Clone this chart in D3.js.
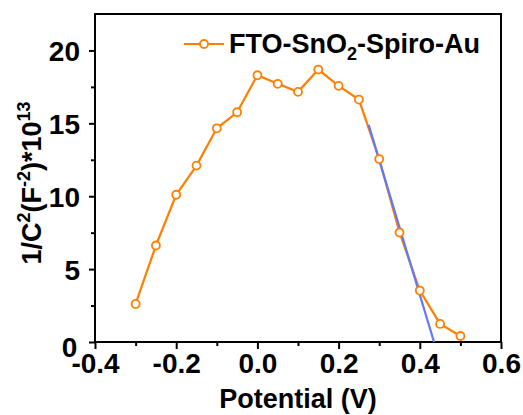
<!DOCTYPE html>
<html>
<head>
<meta charset="utf-8">
<script src="https://cdn.jsdelivr.net/npm/d3@7"></script>
<style>
  body { margin: 0; background: #fff; }
  text { font-family: "Liberation Sans", Arial, sans-serif; font-weight: bold; }
</style>
</head>
<body>
<div id="chart"></div>
<script>
/* DATA */
const potential = [-0.3, -0.25, -0.2, -0.15, -0.1, -0.05, 0.0, 0.05, 0.1, 0.15, 0.2, 0.25, 0.3, 0.35, 0.4, 0.45, 0.5];
const invC2 = [2.61, 6.62, 10.1, 12.1, 14.66, 15.76, 18.3, 17.71, 17.16, 18.69, 17.57, 16.63, 12.55, 7.51, 3.53, 1.24, 0.41];
// linear fit (Mott-Schottky extrapolation)
const fitX = [0.274, 0.435];
const fitY = [14.89, 0];
const xTicks = [-0.4, -0.2, 0.0, 0.2, 0.4, 0.6];
const yTicks = [0, 5, 10, 15, 20];
const seriesName = "FTO-SnO";

const width = 523, height = 415;
const margin = { top: 14, right: 22, bottom: 73, left: 95 };

const svg = d3.select("#chart").append("svg")
  .attr("width", width)
  .attr("height", height);

const x = d3.scaleLinear().domain([-0.4, 0.6]).range([margin.left, width - margin.right]);
const y = d3.scaleLinear().domain([0, 22.5]).range([height - margin.bottom, margin.top]);

const orange = "#ff8000", blue = "#6079f5";

// axes
const xAxis = svg.append("g")
  .attr("transform", `translate(0,${height - margin.bottom})`)
  .call(d3.axisBottom(x).tickValues(xTicks).tickSize(7).tickPadding(4));
xAxis.selectAll("text").attr("font-size", 28).attr("fill", "#000")
  .text(d => (d < 0 ? "-" : "") + Math.abs(d).toFixed(1));

svg.append("g")
  .attr("transform", `translate(0,${height - margin.bottom})`)
  .call(d3.axisBottom(x).tickValues(d3.range(-0.3, 0.6, 0.2)).tickFormat("").tickSize(4))
  .call(g => g.select(".domain").remove());

const yAxis = svg.append("g")
  .attr("transform", `translate(${margin.left},0)`)
  .call(d3.axisLeft(y).tickValues(yTicks).tickSize(6).tickPadding(9));
yAxis.selectAll("text").attr("font-size", 28).attr("fill", "#000")
  .attr("dx", d => d === 0 ? "-0.1em" : 0)
  .attr("dy", d => d === 0 ? "0.5em" : "0.36em");

svg.append("g")
  .attr("transform", `translate(${margin.left},0)`)
  .call(d3.axisLeft(y).tickValues([2.5, 7.5, 12.5, 17.5]).tickFormat("").tickSize(4))
  .call(g => g.select(".domain").remove());

svg.selectAll(".domain").remove();
svg.selectAll(".tick line").attr("stroke", "#000").attr("stroke-width", 2);

// frame
svg.append("rect")
  .attr("x", margin.left).attr("y", margin.top)
  .attr("width", width - margin.left - margin.right)
  .attr("height", height - margin.top - margin.bottom)
  .attr("fill", "none").attr("stroke", "#000").attr("stroke-width", 2);

// axis titles
svg.append("text")
  .attr("x", 298)
  .attr("y", 408)
  .attr("text-anchor", "middle")
  .attr("font-size", 27)
  .text("Potential (V)");

const yt = svg.append("text")
  .attr("transform", `translate(41,183) rotate(-90)`)
  .attr("text-anchor", "middle")
  .attr("font-size", 27);
yt.append("tspan").text("1/C");
yt.append("tspan").attr("font-size", 18).attr("dy", -11).text("2");
yt.append("tspan").attr("dy", 11).text("(F");
yt.append("tspan").attr("font-size", 18).attr("dy", -11).text("-2");
yt.append("tspan").attr("dy", 11).text(")*10");
yt.append("tspan").attr("font-size", 18).attr("dy", -11).text("13");

// data
const data = potential.map((p, i) => ({ x: p, y: invC2[i] }));
const line = d3.line().x(d => x(d.x)).y(d => y(d.y));

svg.append("path")
  .datum(data)
  .attr("d", line)
  .attr("fill", "none")
  .attr("stroke", orange)
  .attr("stroke-width", 2.2);

svg.append("path")
  .datum(fitX.map((v, i) => ({ x: v, y: fitY[i] })))
  .attr("d", line)
  .attr("fill", "none")
  .attr("stroke", blue)
  .attr("stroke-width", 2.2);

svg.selectAll(".dot")
  .data(data)
  .join("circle")
  .attr("class", "dot")
  .attr("cx", d => x(d.x))
  .attr("cy", d => y(d.y))
  .attr("r", 4)
  .attr("fill", "#fff")
  .attr("stroke", orange)
  .attr("stroke-width", 1.8);

// legend
const lg = svg.append("g").attr("transform", "translate(184,44)");
lg.append("line").attr("x1", 0).attr("x2", 40).attr("stroke", orange).attr("stroke-width", 2.2);
lg.append("circle").attr("cx", 20).attr("r", 4).attr("fill", "#fff").attr("stroke", orange).attr("stroke-width", 1.8);
const lt = lg.append("text").attr("x", 45).attr("y", 9).attr("font-size", 27);
lt.append("tspan").text(seriesName);
lt.append("tspan").attr("font-size", 18).attr("dy", 7).text("2");
lt.append("tspan").attr("dy", -7).text("-Spiro-Au");
</script>
</body>
</html>
